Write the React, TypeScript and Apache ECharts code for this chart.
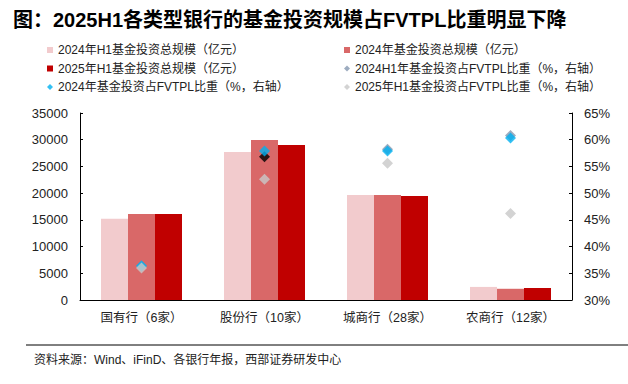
import React, { useEffect, useRef } from "react";
import * as echarts from "echarts";

const categories = ["国有行（6家）", "股份行（10家）", "城商行（28家）", "农商行（12家）"];
const seriesNames = [
  "2024年H1基金投资总规模（亿元）",
  "2024年基金投资总规模（亿元）",
  "2025年H1基金投资总规模（亿元）",
  "2024H1年基金投资占FVTPL比重（%，右轴）",
  "2024年基金投资占FVTPL比重（%，右轴）",
  "2025年H1基金投资占FVTPL比重（%，右轴）",
];
const scale2024H1 = [15200, 27700, 19650, 2450];
const scale2024 = [16100, 29950, 19650, 2100];
const scale2025H1 = [16100, 29000, 19450, 2250];
const ratio2024H1 = [36.3, 56.8, 58.2, 60.8];
const ratio2024 = [36.4, 57.9, 57.9, 60.3];
const ratio2025H1 = [36.0, 52.6, 55.6, 46.2];
const leftTicks = { min: 0, max: 35000, interval: 5000 };
const rightTicks = { min: 30, max: 65, interval: 5 };

const titleText = "图：2025H1各类型银行的基金投资规模占FVTPL比重明显下降";
const sourceText = "资料来源：Wind、iFinD、各银行年报，西部证券研发中心";

const FONT = '"Liberation Sans", Arial, "Noto Sans CJK SC", sans-serif';
const barColors = ["#F2CBCD", "#D96868", "#C00000"];
const dotColors = ["#8497B0", "#00B0F0", "#C8C8C8"];

export default function App() {
  const ref = useRef<HTMLDivElement>(null);
  useEffect(() => {
    if (!ref.current) return;
    const chart = echarts.init(ref.current, null, { renderer: "svg" });
    const barData = [scale2024H1, scale2024, scale2025H1];
    const dotData = [ratio2024H1, ratio2024, ratio2025H1];
    const bars = barData.map((d, i) => ({
      name: seriesNames[i],
      type: "bar",
      data: d,
      barWidth: 27,
      barGap: "0%",
      itemStyle: { color: barColors[i] },
    }));
    const dots = dotData.map((d, i) => ({
      name: seriesNames[i + 3],
      type: "scatter",
      yAxisIndex: 1,
      symbol: "diamond",
      symbolSize: 11,
      data: d.map((v, j) =>
        i === 0 && j === 1 ? { value: v, itemStyle: { color: "#000000" } } : v
      ),
      itemStyle: { color: dotColors[i] },
      z: 3 + i,
    }));
    const legendBase = {
      orient: "vertical",
      top: 44,
      itemWidth: 6,
      itemHeight: 6,
      itemGap: 6.5,
      padding: 0,
      textStyle: { fontSize: 12, color: "#222", fontFamily: FONT },
    };
    chart.setOption({
      animation: false,
      title: {
        text: titleText,
        left: 13,
        top: 10,
        padding: 0,
        textStyle: { fontSize: 20, fontWeight: "bold", color: "#000", fontFamily: FONT },
      },
      legend: [
        {
          ...legendBase,
          left: 47,
          data: [
            { name: seriesNames[0], icon: "rect" },
            { name: seriesNames[2], icon: "rect" },
            { name: seriesNames[4], icon: "diamond" },
          ],
        },
        {
          ...legendBase,
          left: 344,
          data: [
            { name: seriesNames[1], icon: "rect" },
            { name: seriesNames[3], icon: "diamond" },
            { name: seriesNames[5], icon: "diamond" },
          ],
        },
      ],
      grid: { left: 80, right: 56, top: 113, bottom: 84 },
      xAxis: {
        type: "category",
        data: categories,
        axisLine: { lineStyle: { color: "#000", width: 1 } },
        axisTick: { inside: true, length: 3, lineStyle: { color: "#000" } },
        axisLabel: { fontSize: 12.5, color: "#222", margin: 12, fontFamily: FONT },
      },
      yAxis: [
        {
          type: "value",
          ...leftTicks,
          axisLine: { show: true, lineStyle: { color: "#000", width: 1 } },
          axisTick: { show: true, inside: true, length: 3, lineStyle: { color: "#000" } },
          splitLine: { show: false },
          axisLabel: {
            fontSize: 13,
            color: "#222",
            margin: 12,
            fontFamily: FONT,
            formatter: (v: number) => String(v),
          },
        },
        {
          type: "value",
          ...rightTicks,
          position: "right",
          axisLine: { show: true, lineStyle: { color: "#000", width: 1 } },
          axisTick: { show: true, inside: true, length: 3, lineStyle: { color: "#000" } },
          splitLine: { show: false },
          axisLabel: { fontSize: 13, color: "#222", margin: 12, formatter: "{value}%", fontFamily: FONT },
        },
      ],
      graphic: [
        {
          type: "line",
          shape: { x1: 26, y1: 345, x2: 628, y2: 345 },
          style: { stroke: "#000", lineWidth: 1 },
        },
        {
          type: "text",
          x: 34,
          y: 360,
          style: {
            text: sourceText,
            fontSize: 12,
            fill: "#222",
            fontFamily: FONT,
            textVerticalAlign: "middle",
          },
        },
      ],
      series: [...bars, ...dots],
    });
    return () => chart.dispose();
  }, []);
  return (
    <div
      ref={ref}
      style={{ position: "fixed", left: 0, top: 0, width: 628, height: 384, background: "#fff" }}
    />
  );
}
